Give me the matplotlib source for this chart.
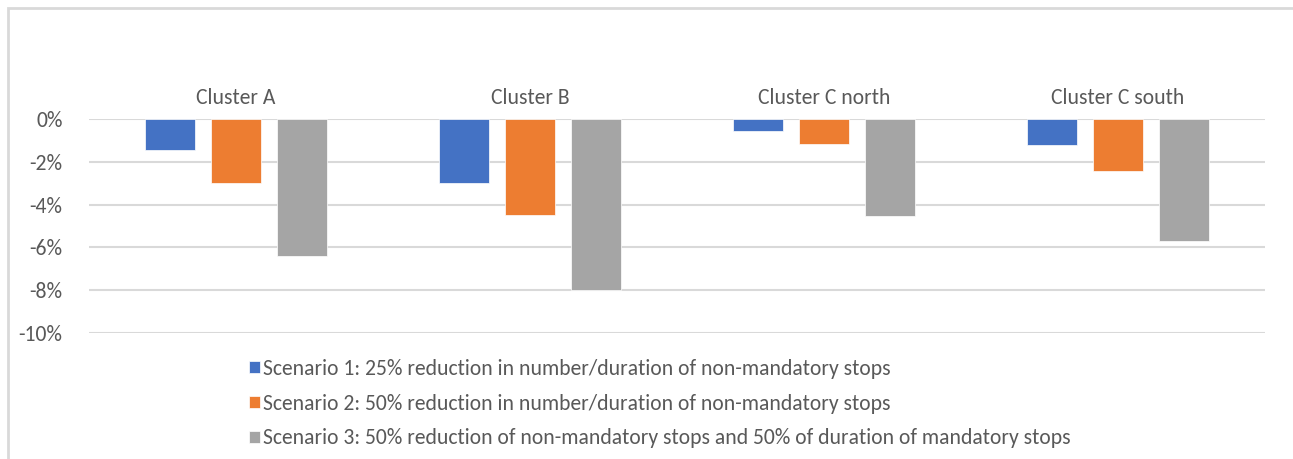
import matplotlib
matplotlib.use("Agg")
import matplotlib.pyplot as plt
import matplotlib.patches as mpatches
import numpy as np

# data (percent change)
clusters = ["Cluster A", "Cluster B", "Cluster C north", "Cluster C south"]
scenario_names = [
    "Scenario 1: 25% reduction in number/duration of non-mandatory stops",
    "Scenario 2: 50% reduction in number/duration of non-mandatory stops",
    "Scenario 3: 50% reduction of non-mandatory stops and 50% of duration of mandatory stops",
]
scenario1 = [-1.45, -3.0, -0.55, -1.2]
scenario2 = [-3.0, -4.5, -1.15, -2.45]
scenario3 = [-6.4, -8.0, -4.55, -5.7]
y_ticks = [0, -2, -4, -6, -8, -10]

colors = ["#4472C4", "#ED7D31", "#A5A5A5"]
text_color = "#595959"
grid_color = "#D9D9D9"

plt.rcParams["font.family"] = ["Carlito", "Lato", "DejaVu Sans"]
FS = 15.6

W, H = 1293, 459
fig = plt.figure(figsize=(W / 100, H / 100), dpi=100)
fig.set_facecolor("white")

# outer chart frame (cropped at right/bottom)
fig.patches.append(mpatches.Rectangle(
    (8 / W, -0.1), 1.2, 1 - 8 / H + 0.1, transform=fig.transFigure,
    facecolor="none", edgecolor=grid_color, linewidth=2, zorder=0))

left, right = 89, 1265
top, bottom = 119, 333
ax = fig.add_axes([left / W, (H - bottom) / H, (right - left) / W, (bottom - top) / H])

x = np.arange(len(clusters))
bar_w = 0.173
step = 0.2245
series = [scenario1, scenario2, scenario3]
for i, (vals, c, name) in enumerate(zip(series, colors, scenario_names)):
    ax.bar(x + (i - 1) * step, vals, width=bar_w, color=c, label=name,
           edgecolor="white", linewidth=0.5, zorder=3)

ax.set_xlim(-0.5, len(clusters) - 0.5)
ax.set_ylim(-10, 0)
ax.set_yticks(y_ticks)
ax.set_yticklabels([f"{v}%" for v in y_ticks])
ax.yaxis.grid(True, color=grid_color, linewidth=1.5, zorder=0)
ax.tick_params(axis="y", length=0, pad=19, colors=text_color, labelsize=FS)

ax.xaxis.tick_top()
ax.set_xticks(x)
ax.set_xticklabels(clusters)
ax.tick_params(axis="x", length=0, pad=8, colors=text_color, labelsize=FS)

for s in ax.spines.values():
    s.set_visible(False)

handles, labels = ax.get_legend_handles_labels()
fig.legend(handles, labels, loc="upper left",
           bbox_to_anchor=(249 / W, 1 - 359 / H), frameon=False,
           fontsize=FS, labelcolor=text_color, handlelength=0.5,
           handleheight=0.5, handletextpad=0.15, labelspacing=0.68,
           borderaxespad=0, borderpad=0)

plt.savefig("out.png", dpi=100, facecolor=fig.get_facecolor())
